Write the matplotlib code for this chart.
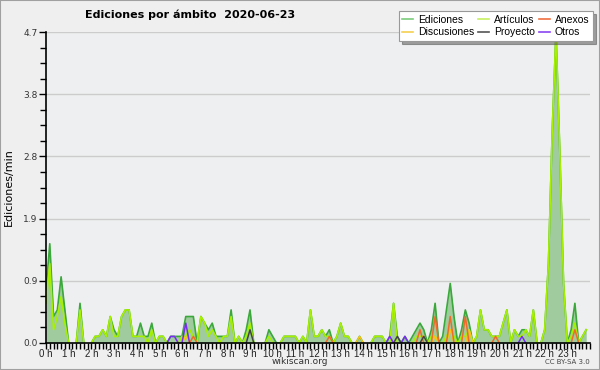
import numpy as np
import matplotlib.pyplot as plt
from matplotlib.patches import Rectangle

# edits per minute, one value per 10-minute slot (6 per hour)
ediciones = [0.8, 1.5, 0.4, 0.5, 1.0, 0.5,
             0, 0, 0, 0.6, 0, 0,
             0, 0.1, 0.1, 0.2, 0.1, 0.4,
             0.2, 0.1, 0.4, 0.5, 0.5, 0.1,
             0.1, 0.3, 0.1, 0.1, 0.3, 0,
             0.1, 0.1, 0, 0.1, 0.1, 0.1,
             0.1, 0.4, 0.4, 0.4, 0, 0.4,
             0.3, 0.2, 0.3, 0.1, 0.1, 0.1,
             0.1, 0.5, 0, 0.1, 0, 0.2,
             0.5, 0, 0, 0, 0, 0.2,
             0.1, 0, 0, 0.1, 0.1, 0.1,
             0.1, 0, 0.1, 0, 0.5, 0.1,
             0.1, 0.2, 0.1, 0.2, 0, 0.1,
             0.3, 0.1, 0.1, 0, 0, 0.1,
             0, 0, 0, 0.1, 0.1, 0.1,
             0, 0.1, 0.6, 0.1, 0, 0.1,
             0, 0.1, 0.2, 0.3, 0.2, 0,
             0.2, 0.6, 0, 0.1, 0.5, 0.9,
             0.4, 0, 0.2, 0.5, 0.3, 0,
             0.1, 0.5, 0.2, 0.2, 0.1, 0.1,
             0.1, 0.3, 0.5, 0, 0.2, 0.1,
             0.2, 0.2, 0.1, 0.5, 0, 0,
             0.2, 1.2, 3.2, 4.7, 2.9, 0.9,
             0, 0.2, 0.6, 0, 0.1, 0.2]

articulos = [0.6, 1.2, 0.2, 0.4, 0.7, 0.3,
             0, 0, 0, 0.5, 0, 0,
             0, 0.1, 0.1, 0.2, 0.1, 0.4,
             0.1, 0.1, 0.4, 0.5, 0.5, 0.1,
             0.1, 0.1, 0.1, 0, 0.2, 0,
             0.1, 0.1, 0, 0, 0, 0,
             0.1, 0.1, 0.2, 0.1, 0, 0.4,
             0.3, 0.1, 0.2, 0.1, 0, 0.1,
             0.1, 0.4, 0, 0.1, 0, 0.1,
             0.3, 0, 0, 0, 0, 0.1,
             0, 0, 0, 0.1, 0.1, 0.1,
             0.1, 0, 0.1, 0, 0.5, 0.1,
             0.1, 0.2, 0.1, 0.1, 0, 0.1,
             0.3, 0.1, 0.1, 0, 0, 0,
             0, 0, 0, 0.1, 0.1, 0.1,
             0, 0, 0.6, 0, 0, 0,
             0, 0, 0.1, 0.1, 0.1, 0,
             0.1, 0.1, 0, 0, 0.1, 0.2,
             0.1, 0, 0.1, 0.1, 0.2, 0,
             0.1, 0.5, 0.2, 0.2, 0.1, 0.1,
             0.1, 0.3, 0.5, 0, 0.2, 0.1,
             0.1, 0.2, 0.1, 0.5, 0, 0,
             0.2, 1.2, 3.2, 4.7, 2.9, 0.9,
             0, 0.1, 0.3, 0, 0.1, 0.2]

# sparse series: slot -> value
anexos = {39: 0.1, 75: 0.1, 99: 0.2, 103: 0.4, 107: 0.4, 111: 0.4, 119: 0.1, 140: 0.2}
discusiones = {37: 0.1, 83: 0.1, 103: 0.1, 107: 0.2, 112: 0.2}
proyecto = {54: 0.2, 93: 0.1, 100: 0.1}
otros = {33: 0.1, 34: 0.1, 37: 0.3, 91: 0.1, 95: 0.1, 126: 0.1}

hour_labels = ['%d h' % h for h in range(24)]
ymax = 4.7

n = len(ediciones)
hours = np.arange(n) / 6.0


def spread(d):
    v = np.zeros(n)
    for k, val in d.items():
        v[k] = val
    return v


def trim(v):
    # hide runs of zeros so they don't paint over the baseline
    v = np.asarray(v, float)
    out = v.copy()
    for i in range(n):
        left = v[i - 1] if i > 0 else 0
        right = v[i + 1] if i < n - 1 else 0
        if v[i] == 0 and left == 0 and right == 0:
            out[i] = np.nan
    return out


narrow = 'Liberation Sans'
bg = '#efefef'
fig = plt.figure(figsize=(6, 3.7), dpi=100, facecolor=bg)
fig.patches.append(Rectangle((0, 0), 1, 1, transform=fig.transFigure, fill=False,
                             edgecolor='#a0a0a0', lw=1.5))
ax = fig.add_axes([46 / 600, 27 / 370, 544 / 600, 311 / 370])
ax.set_facecolor('#eeeff0')

ed = np.array(ediciones, float)
ax.fill_between(hours, ed, color='#9fcb9f', lw=0, zorder=1)
ax.plot(hours, trim(ed), color='#3aa83a', lw=1.2, zorder=3)
ax.plot(hours, trim(articulos), color='#a6f000', lw=1.2, zorder=4)
ax.plot(hours, trim(spread(discusiones)), color='#f5c518', lw=1.1, zorder=5)
ax.plot(hours, trim(spread(anexos)), color='#f26a2a', lw=1.1, zorder=5)
ax.plot(hours, trim(spread(proyecto)), color='#444444', lw=1.1, zorder=5)
ax.plot(hours, trim(spread(otros)), color='#7a2cf0', lw=1.1, zorder=5)

ax.set_xlim(0, 24)
ax.set_ylim(0, ymax)

yt = np.linspace(0, ymax, 6)
ax.set_yticks(yt)
ax.set_yticklabels(['%.1f' % v for v in yt])
ax.set_yticks(np.linspace(0, ymax, 21), minor=True)
ax.set_xticks(range(24))
ax.set_xticklabels(hour_labels, family=narrow)
ax.set_xticks(np.arange(0, 24.01, 1 / 6), minor=True)

for v in yt[1:]:
    ax.axhline(v, color='#cccccc', lw=1, zorder=0.5)

ax.tick_params(axis='y', which='major', length=5, width=1, labelsize=6.5,
               labelcolor='#333333', pad=1)
ax.tick_params(axis='y', which='minor', length=4, width=1)
ax.tick_params(axis='x', which='both', length=4, width=1, labelsize=7,
               labelcolor='#222222', pad=0)
for s in ['top', 'right']:
    ax.spines[s].set_visible(False)
for s in ['left', 'bottom']:
    ax.spines[s].set_linewidth(1.2)
    ax.spines[s].set_zorder(6)

ax.set_ylabel('Ediciones/min', fontsize=8, labelpad=7)

fig.text(85 / 600, 1 - 15 / 370, 'Ediciones por ámbito  2020-06-23',
         fontsize=8, fontweight='bold', ha='left', va='center')
fig.text(0.5, 1 - 362 / 370, 'wikiscan.org', fontsize=6.5, color='#333333',
         ha='center', va='center')
fig.text(590 / 600, 1 - 362 / 370, 'CC BY-SA 3.0', fontsize=5, color='#444444',
         ha='right', va='center')

handles = [
    plt.Line2D([], [], color='#7ccc7c', lw=1.2),
    plt.Line2D([], [], color='#f5d050', lw=1.2),
    plt.Line2D([], [], color='#c8f060', lw=1.2),
    plt.Line2D([], [], color='#555555', lw=1.2),
    plt.Line2D([], [], color='#f07040', lw=1.2),
    plt.Line2D([], [], color='#8a44f0', lw=1.2),
]
labels = ['Ediciones', 'Discusiones', 'Artículos', 'Proyecto', 'Anexos', 'Otros']
leg = fig.legend(handles, labels, loc='upper right', ncol=3,
                 bbox_to_anchor=(593 / 600, 1 - 11 / 370),
                 prop={'family': narrow, 'size': 7.5},
                 frameon=True, fancybox=False, shadow=True, handlelength=1.0,
                 handletextpad=0.5, columnspacing=0.4, labelspacing=0.25,
                 borderpad=0.35, borderaxespad=0)
leg.get_frame().set_edgecolor('#999999')
leg.get_frame().set_linewidth(0.8)

fig.savefig('out.png', dpi=100, facecolor=bg)
